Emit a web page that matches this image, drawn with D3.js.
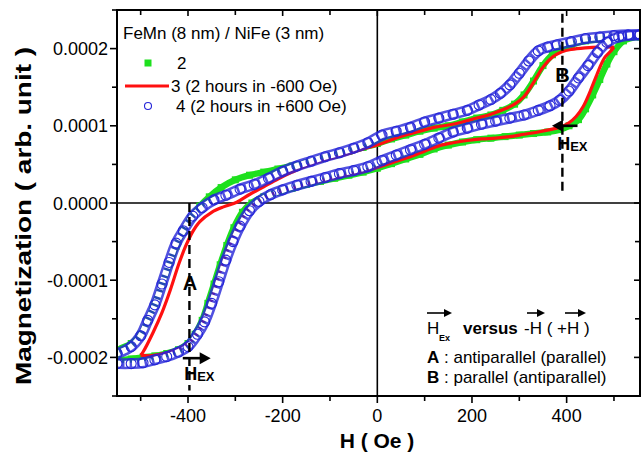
<!DOCTYPE html>
<html><head><meta charset="utf-8">
<script src="https://cdn.jsdelivr.net/npm/d3@7"></script>
<style>
html,body{margin:0;padding:0;background:#fff;}
svg{display:block;font-family:"Liberation Sans",Arial,sans-serif;}
</style></head>
<body><svg id="chart" width="644" height="456"></svg>
<script>
// ---------------- DATA ----------------
const M_UNIT = 1e-4;               // magnetization values below are in units of 1e-4
const H_TICKS = [-400, -200, 0, 200, 400];
const H_MINOR = [-500, -300, -100, 100, 300, 500];
const M_TICKS = [-0.0002, -0.0001, 0, 0.0001, 0.0002];
const M_MINOR = [-0.00025, -0.00015, -0.00005, 0.00005, 0.00015, 0.00025];
const seriesNames = ["2", "3 (2 hours in -600 Oe)", "4 (2 hours in +600 Oe)"];

// series 2 (green squares): field decreasing branch
const s2DownH = [555,530,500,470,440,410,390,370,350,330,310,290,265,240,210,180,150,120,90,60,30,0,-30,-60,-90,-120,-150,-180,-210,-240,-270,-300,-330,-355,-375,-395,-410,-425,-440,-455,-470,-485,-500,-520,-550];
const s2DownM = [2.15,2.15,2.14,2.12,2.10,2.05,2.00,1.92,1.78,1.58,1.40,1.28,1.20,1.14,1.10,1.05,1.00,0.97,0.93,0.88,0.83,0.77,0.72,0.67,0.62,0.57,0.52,0.48,0.44,0.40,0.36,0.30,0.20,0.08,-0.04,-0.20,-0.36,-0.56,-0.80,-1.06,-1.30,-1.52,-1.70,-1.82,-1.92];
// series 2: field increasing branch
const s2UpH = [-550,-520,-495,-470,-445,-420,-400,-385,-370,-358,-345,-332,-318,-303,-285,-265,-240,-210,-180,-150,-120,-90,-60,-30,0,30,60,90,120,150,180,210,240,270,300,330,360,385,405,425,440,455,470,485,500,520,555];
const s2UpM = [-2.02,-2.02,-2.00,-1.98,-1.95,-1.90,-1.82,-1.70,-1.52,-1.30,-1.05,-0.80,-0.55,-0.32,-0.12,0.00,0.08,0.14,0.19,0.24,0.28,0.32,0.36,0.40,0.45,0.51,0.57,0.63,0.70,0.75,0.79,0.82,0.84,0.86,0.88,0.90,0.92,0.95,1.00,1.08,1.22,1.40,1.60,1.80,1.96,2.10,2.16];

// series 3 (red line)
const s3DownH = [500,470,440,410,390,370,350,330,310,290,270,240,210,180,150,120,90,60,30,0,-30,-60,-90,-120,-150,-180,-210,-240,-270,-297,-325,-350,-375,-390,-405,-420,-437,-455,-474,-495,-500];
const s3DownM = [2.02,2.02,2.01,1.99,1.96,1.89,1.76,1.56,1.38,1.28,1.22,1.15,1.10,1.05,1.01,0.98,0.93,0.88,0.82,0.75,0.70,0.64,0.59,0.54,0.48,0.40,0.31,0.21,0.11,0.01,-0.05,-0.12,-0.24,-0.37,-0.56,-0.80,-1.12,-1.42,-1.68,-1.93,-1.97];
const s3UpH = [-500,-480,-460,-440,-420,-400,-382,-367,-352,-338,-323,-308,-292,-272,-250,-225,-200,-170,-140,-110,-80,-50,-20,10,40,70,100,130,160,190,220,250,280,310,340,365,385,405,420,435,450,465,480,495,500];
const s3UpM = [-1.97,-1.98,-1.96,-1.93,-1.89,-1.82,-1.70,-1.52,-1.28,-1.00,-0.72,-0.48,-0.28,-0.08,0.03,0.11,0.16,0.21,0.26,0.30,0.34,0.38,0.42,0.48,0.54,0.60,0.67,0.74,0.78,0.81,0.83,0.84,0.86,0.89,0.92,0.95,0.98,1.04,1.12,1.25,1.45,1.68,1.88,1.98,2.02];

// series 4 (blue open circles)
const s4DownH = [555,530,500,470,440,410,380,360,340,320,300,280,260,240,215,190,160,130,100,70,40,10,-20,-50,-80,-110,-140,-170,-200,-230,-260,-290,-320,-345,-370,-390,-410,-425,-440,-455,-470,-485,-500,-520,-550];
const s4DownM = [2.18,2.18,2.17,2.15,2.13,2.09,2.05,2.02,1.97,1.84,1.68,1.53,1.42,1.34,1.27,1.20,1.15,1.10,1.05,0.98,0.93,0.88,0.78,0.71,0.65,0.60,0.54,0.48,0.41,0.32,0.24,0.18,0.10,0.04,-0.06,-0.17,-0.36,-0.52,-0.77,-1.05,-1.32,-1.52,-1.72,-1.86,-1.95];
const s4UpH = [-550,-520,-495,-470,-445,-420,-400,-380,-365,-350,-335,-320,-305,-290,-270,-250,-225,-200,-170,-140,-110,-80,-50,-20,10,40,70,100,130,160,190,220,250,280,310,340,365,385,405,425,445,465,485,510,555];
const s4UpM = [-2.08,-2.08,-2.07,-2.03,-1.99,-1.93,-1.86,-1.70,-1.54,-1.30,-1.02,-0.74,-0.50,-0.30,-0.10,0.02,0.11,0.17,0.23,0.28,0.33,0.38,0.42,0.47,0.55,0.62,0.69,0.76,0.84,0.92,0.97,1.02,1.06,1.10,1.14,1.20,1.26,1.33,1.45,1.62,1.78,1.95,2.08,2.15,2.18];

// annotation anchors (field in Oe, magnetization in units of 1e-4)
const dashedLines = [{H: -397, from: 0, to: -2.43}, {H: 391, to: 0.10, from: 2.45}];
const letterLabels = [{t: "A", H: -396, M: -1.04}, {t: "B", H: 391, M: 1.66}];
const hexArrows = [{from: -411, to: -352, M: -2.01}, {from: 423, to: 369, M: 1.00}];
const hexLabels = [{H: -408, M: -2.29}, {H: 380, M: 0.69}];

// ---------------- CHART ----------------
const svg = d3.select("#chart");
const L = 117, R = 640, T = 10, B = 396;
const x = d3.scaleLinear().domain([-550, 555]).range([L, R]);
const y = d3.scaleLinear().domain([-0.00025, 0.00025]).range([B, T]);
const font = '"Liberation Sans", Arial, sans-serif';

const zip = (H, M) => H.map((h, i) => [h, M[i] * M_UNIT]);
const s2 = zip(s2DownH, s2DownM).concat(zip(s2UpH, s2UpM));
const s4 = zip(s4DownH, s4DownM).concat(zip(s4UpH, s4UpM));
const green = "#1ee01e", red = "#ff1010", blue = "#2525d8";

svg.append("clipPath").attr("id", "clip").append("rect")
  .attr("x", L).attr("y", T).attr("width", R - L).attr("height", B - T);

// zero lines
svg.append("line").attr("x1", L).attr("x2", R).attr("y1", y(0)).attr("y2", y(0)).attr("stroke", "#000").attr("stroke-width", 1.6);
svg.append("line").attr("x1", x(0)).attr("x2", x(0)).attr("y1", T).attr("y2", B).attr("stroke", "#000").attr("stroke-width", 1.6);

const line = d3.line().x(d => x(d[0])).y(d => y(d[1])).curve(d3.curveCatmullRom);
const g = svg.append("g").attr("clip-path", "url(#clip)");

// series 2 : green squares
g.append("path").datum(s2).attr("d", line).attr("fill", "none").attr("stroke", green).attr("stroke-width", 6.5);
g.selectAll("rect.s2").data(s2).join("rect").attr("class", "s2")
  .attr("x", d => x(d[0]) - 3.5).attr("y", d => y(d[1]) - 3.5).attr("width", 7).attr("height", 7).attr("fill", green);

// series 3 : red line
g.append("path").datum(zip(s3DownH, s3DownM)).attr("d", line).attr("fill", "none").attr("stroke", red).attr("stroke-width", 3.2);
g.append("path").datum(zip(s3UpH, s3UpM)).attr("d", line).attr("fill", "none").attr("stroke", red).attr("stroke-width", 3.2);

// series 4 : blue open circles
[zip(s4DownH, s4DownM), zip(s4UpH, s4UpM)].forEach(br => {
  g.append("path").datum(br).attr("d", line).attr("fill", "none").attr("stroke", blue).attr("stroke-width", 11).attr("stroke-opacity", 0.8);
  g.append("path").datum(br).attr("d", line).attr("fill", "none").attr("stroke", "#fff").attr("stroke-width", 6)
    .attr("stroke-dasharray", "5,2.5");
});
g.selectAll("circle.s4").data(s4).join("circle").attr("class", "s4")
  .attr("cx", d => x(d[0])).attr("cy", d => y(d[1])).attr("r", 5)
  .attr("fill", "none").attr("stroke", blue).attr("stroke-width", 1.1);

// dashed lines
dashedLines.forEach(d => {
  svg.append("line").attr("x1", x(d.H)).attr("x2", x(d.H)).attr("y1", y(d.from * M_UNIT)).attr("y2", y(d.to * M_UNIT))
    .attr("stroke", "#000").attr("stroke-width", 2.4).attr("stroke-dasharray", "9,5");
});
letterLabels.forEach(d => {
  svg.append("text").attr("x", x(d.H)).attr("y", y(d.M * M_UNIT) + 7).attr("text-anchor", "middle")
    .attr("font-size", 20).attr("font-weight", "bold").attr("font-family", font).text(d.t);
});
// H_EX arrows
hexArrows.forEach(d => {
  const x1 = x(d.from), x2 = x(d.to), yy = y(d.M * M_UNIT), dir = Math.sign(x2 - x1);
  svg.append("line").attr("x1", x1).attr("x2", x2 - dir * 8).attr("y1", yy).attr("y2", yy).attr("stroke", "#000").attr("stroke-width", 2.6);
  svg.append("path").attr("d", `M${x2},${yy} L${x2 - dir * 11},${yy - 6} L${x2 - dir * 11},${yy + 6} Z`).attr("fill", "#000");
});
hexLabels.forEach(d => {
  const t = svg.append("text").attr("x", x(d.H)).attr("y", y(d.M * M_UNIT)).attr("font-family", font).attr("font-weight", "bold");
  t.append("tspan").attr("font-size", 18).text("H");
  t.append("tspan").attr("font-size", 13).attr("dy", 1).text("EX");
});

// frame
svg.append("rect").attr("x", L).attr("y", T).attr("width", R - L).attr("height", B - T).attr("fill", "none").attr("stroke", "#000").attr("stroke-width", 2);

// ticks
const tk = svg.append("g").attr("stroke", "#000").attr("stroke-width", 1.6);
H_TICKS.concat(H_MINOR).forEach(h => {
  const major = H_TICKS.includes(h);
  tk.append("line").attr("x1", x(h)).attr("x2", x(h)).attr("y1", B).attr("y2", B + (major ? 7 : 5));
  tk.append("line").attr("x1", x(h)).attr("x2", x(h)).attr("y1", T).attr("y2", T + (major ? 6 : 5));
});
M_TICKS.concat(M_MINOR).forEach(m => {
  const major = M_TICKS.includes(m);
  tk.append("line").attr("y1", y(m)).attr("y2", y(m)).attr("x1", L).attr("x2", L - (major ? 7 : 5));
  tk.append("line").attr("y1", y(m)).attr("y2", y(m)).attr("x1", R).attr("x2", R - (major ? 6 : 5));
});
svg.selectAll("text.xt").data(H_TICKS).join("text").attr("class", "xt")
  .attr("x", d => x(d)).attr("y", 422).attr("text-anchor", "middle").attr("font-size", 18).attr("font-family", font).text(d => String(d));
svg.selectAll("text.yt").data(M_TICKS).join("text").attr("class", "yt")
  .attr("x", 108).attr("y", d => y(d) + 6.5).attr("text-anchor", "end").attr("font-size", 18).attr("font-family", font).text(d => d.toFixed(4));

// axis titles
svg.append("text").attr("x", 377).attr("y", 448).attr("text-anchor", "middle").attr("font-size", 21).attr("font-weight", "bold").attr("font-family", font).text("H ( Oe )");
svg.append("text").attr("transform", "translate(31,216) rotate(-90)").attr("text-anchor", "middle").attr("font-size", 22).attr("font-weight", "bold").attr("font-family", font)
  .attr("textLength", 338).attr("lengthAdjust", "spacingAndGlyphs").text("Magnetization ( arb. unit )");

// legend
svg.append("text").attr("x", 123).attr("y", 39).attr("font-size", 17).attr("font-family", font).text("FeMn (8 nm) / NiFe (3 nm)");
svg.append("rect").attr("x", 144.5).attr("y", 59.5).attr("width", 7).attr("height", 7).attr("fill", green);
svg.append("line").attr("x1", 125).attr("x2", 169).attr("y1", 86).attr("y2", 86).attr("stroke", red).attr("stroke-width", 3.2);
svg.append("circle").attr("cx", 148).attr("cy", 106).attr("r", 3.5).attr("fill", "none").attr("stroke", blue).attr("stroke-width", 1.1);
[[177, 69], [171, 92], [176, 112]].forEach((p, i) => {
  svg.append("text").attr("x", p[0]).attr("y", p[1]).attr("font-size", 17).attr("font-family", font).text(seriesNames[i]);
});

// bottom-right note
const note = svg.append("g").attr("font-family", font);
note.append("text").attr("x", 427).attr("y", 334).attr("font-size", 17).text("H");
note.append("text").attr("x", 439).attr("y", 341).attr("font-size", 9).attr("font-weight", "bold").text("Ex");
note.append("text").attr("x", 463).attr("y", 334).attr("font-size", 17).attr("font-weight", "bold").text("versus");
note.append("text").attr("x", 524).attr("y", 334).attr("font-size", 17).text("-H ( +H )");
[[427, 452], [527, 545], [565, 586]].forEach(a => {
  note.append("line").attr("x1", a[0]).attr("x2", a[1] - 5).attr("y1", 313).attr("y2", 313).attr("stroke", "#000").attr("stroke-width", 1.6);
  note.append("path").attr("d", `M${a[1]},313 L${a[1] - 8},309 L${a[1] - 8},317 Z`).attr("fill", "#000");
});
const n2 = note.append("text").attr("x", 427).attr("y", 363).attr("font-size", 17);
n2.append("tspan").attr("font-weight", "bold").text("A");
n2.append("tspan").text(" : antiparallel (parallel)");
const n3 = note.append("text").attr("x", 427).attr("y", 383).attr("font-size", 17);
n3.append("tspan").attr("font-weight", "bold").text("B");
n3.append("tspan").text(" : parallel (antiparallel)");
</script></body></html>
